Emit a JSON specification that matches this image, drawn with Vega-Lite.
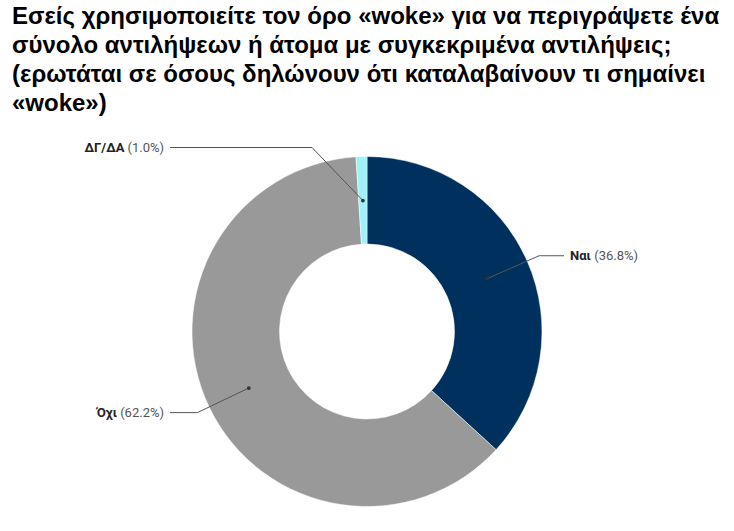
{
  "$schema": "https://vega.github.io/schema/vega-lite/v6.json",
  "width": 734,
  "height": 401,
  "padding": {"top": 5, "left": 0, "right": 0, "bottom": 0},
  "autosize": {"type": "pad"},
  "background": "white",
  "view": {"stroke": null},
  "title": {
    "text": [
      "Εσείς χρησιμοποιείτε τον όρο «woke» για να περιγράψετε ένα",
      "σύνολο αντιλήψεων ή άτομα με συγκεκριμένα αντιλήψεις;",
      "(ερωτάται σε όσους δηλώνουν ότι καταλαβαίνουν τι σημαίνει",
      "«woke»)"
    ],
    "anchor": "start",
    "frame": "group",
    "font": "Liberation Sans",
    "fontSize": 24,
    "fontWeight": "bold",
    "lineHeight": 29,
    "color": "#000000",
    "baseline": "top",
    "dx": 12,
    "offset": 15
  },
  "data": {
    "values": [
      {"answer": "Ναι", "pct": 36.8, "order": 1},
      {"answer": "Όχι", "pct": 62.2, "order": 2},
      {"answer": "ΔΓ/ΔΑ", "pct": 1.0, "order": 3}
    ]
  },
  "transform": [
    {"window": [{"op": "sum", "field": "pct", "as": "cum"}], "sort": [{"field": "order"}], "frame": [null, 0]},
    {"calculate": "(datum.cum - datum.pct / 2) / 100 * 2 * PI", "as": "ang"},
    {"calculate": "sin(datum.ang)", "as": "sx"},
    {"calculate": "cos(datum.ang)", "as": "cy"},
    {"calculate": "131 * datum.sx", "as": "dotX"},
    {"calculate": "131 * datum.cy", "as": "dotY"},
    {"calculate": "datum.sx < 0 && datum.cy > 0 ? -55 : 188 * datum.sx", "as": "elbX"},
    {"calculate": "datum.sx < 0 && datum.cy > 0 ? 184 : 188 * datum.cy", "as": "elbY"},
    {"calculate": "datum.sx >= 0 ? 197 : -197", "as": "endX"},
    {"calculate": "'(' + format(datum.pct, '.1f') + '%)'", "as": "pctLabel"},
    {"calculate": "21.7 + 7.3 * (length(datum.pctLabel) - 4)", "as": "pctW"},
    {"calculate": "7 * length(datum.answer)", "as": "nameW"},
    {"calculate": "datum.sx >= 0 ? 203 : -203 - datum.pctW - 3.3", "as": "nameX"},
    {"calculate": "datum.sx >= 0 ? 203 + datum.nameW + 3.3 : -203", "as": "pctX"}
  ],
  "layer": [
    {
      "mark": {"type": "arc", "outerRadius": 175, "innerRadius": 87.5, "stroke": "white", "strokeWidth": 0.5},
      "encoding": {
        "theta": {"field": "pct", "type": "quantitative", "stack": true},
        "order": {"field": "order", "type": "quantitative"},
        "color": {
          "field": "answer",
          "type": "nominal",
          "scale": {"domain": ["Ναι", "Όχι", "ΔΓ/ΔΑ"], "range": ["#00305E", "#999999", "#9EF1F9"]},
          "legend": null
        }
      }
    },
    {
      "mark": {"type": "rule", "color": "#555555", "strokeWidth": 1},
      "encoding": {
        "x": {"field": "dotX", "type": "quantitative", "scale": {"domain": [-367, 367], "nice": false, "zero": false}, "axis": null},
        "y": {"field": "dotY", "type": "quantitative", "scale": {"domain": [-200.5, 200.5], "nice": false, "zero": false}, "axis": null},
        "x2": {"field": "elbX"},
        "y2": {"field": "elbY"}
      }
    },
    {
      "mark": {"type": "rule", "color": "#555555", "strokeWidth": 1},
      "encoding": {
        "x": {"field": "elbX", "type": "quantitative"},
        "y": {"field": "elbY", "type": "quantitative"},
        "x2": {"field": "endX"}
      }
    },
    {
      "mark": {"type": "point", "filled": true, "size": 14, "color": "#333333", "opacity": 1},
      "encoding": {
        "x": {"field": "dotX", "type": "quantitative"},
        "y": {"field": "dotY", "type": "quantitative"}
      }
    },
    {
      "mark": {"type": "text", "font": "Roboto", "fontSize": 13, "fontWeight": "bold", "color": "#222222", "baseline": "middle", "align": {"expr": "datum.sx >= 0 ? 'left' : 'right'"}},
      "encoding": {
        "x": {"field": "nameX", "type": "quantitative"},
        "y": {"field": "elbY", "type": "quantitative"},
        "text": {"field": "answer"}
      }
    },
    {
      "mark": {"type": "text", "font": "Roboto", "fontSize": 13, "color": "#555555", "baseline": "middle", "align": {"expr": "datum.sx >= 0 ? 'left' : 'right'"}},
      "encoding": {
        "x": {"field": "pctX", "type": "quantitative"},
        "y": {"field": "elbY", "type": "quantitative"},
        "text": {"field": "pctLabel"}
      }
    }
  ]
}
